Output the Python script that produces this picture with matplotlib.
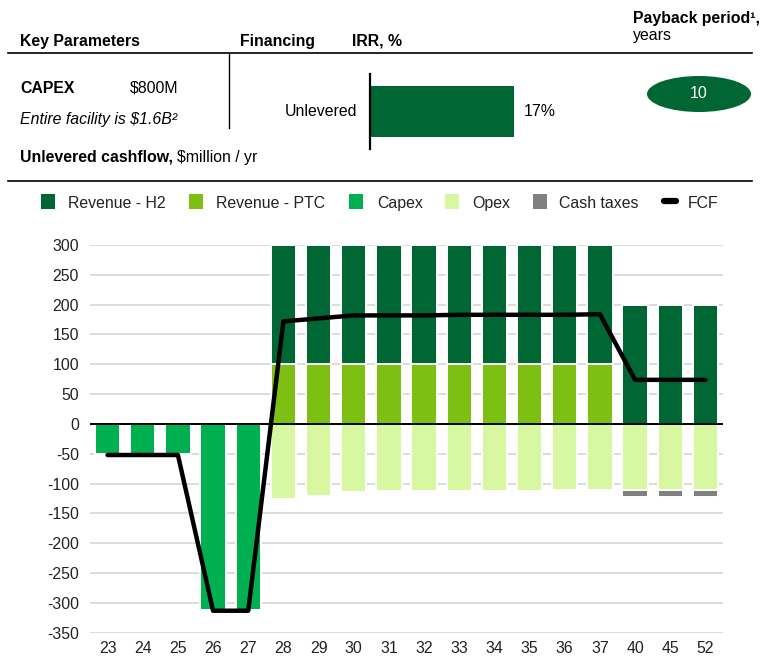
import matplotlib.pyplot as plt
from matplotlib.patches import Rectangle, Ellipse
from matplotlib.lines import Line2D
import numpy as np

plt.rcParams['font.family'] = ['Liberation Sans', 'DejaVu Sans']
plt.rcParams['font.size'] = 11.4
plt.rcParams['axes.unicode_minus'] = False

# ---- data ($million / yr) ----
years = ["23", "24", "25", "26", "27", "28", "29", "30", "31", "32", "33",
         "34", "35", "36", "37", "40", "45", "52"]
rev_h2 = [0, 0, 0, 0, 0, 200, 200, 200, 200, 200, 200, 200, 200, 200, 200, 200, 200, 200]
rev_ptc = [0, 0, 0, 0, 0, 100, 100, 100, 100, 100, 100, 100, 100, 100, 100, 0, 0, 0]
capex = [-50, -50, -50, -312, -312, 0, 0, 0, 0, 0, 0, 0, 0, 0, 0, 0, 0, 0]
opex = [0, 0, 0, 0, 0, -125, -120, -114, -113, -113, -112, -112, -112, -111, -110, -110, -110, -110]
cash_taxes = [0, 0, 0, 0, 0, 0, 0, 0, 0, 0, 0, 0, 0, 0, 0, -13, -13, -13]
fcf = [-52, -52, -52, -313, -313, 172, 177, 182, 182, 182, 183, 183, 183, 183, 184, 74, 74, 74]

irr_pct = 17
payback_years = 10

c_h2 = "#006633"
c_ptc = "#7DC013"
c_capex = "#00B050"
c_opex = "#D7F7A1"
c_tax = "#808080"

W, H = 778, 657
fig = plt.figure(figsize=(W / 100, H / 100), dpi=100)


def fx(x):
    return x / W


def fy(y):
    return 1 - y / H


# ---- header block ----
fig.text(fx(20), fy(46), "Key Parameters", weight="bold", va="baseline")
fig.text(fx(240), fy(46), "Financing", weight="bold", va="baseline")
fig.text(fx(352), fy(46), "IRR, %", weight="bold", va="baseline")
fig.text(fx(633), fy(23), "Payback period\u00b9,", weight="bold", va="baseline")
fig.text(fx(633), fy(40), "years", va="baseline")
fig.add_artist(Line2D([fx(8), fx(752)], [fy(53), fy(53)], color="black", lw=1.2))
fig.add_artist(Line2D([fx(229), fx(229)], [fy(53), fy(128)], color="black", lw=1.0))

fig.text(fx(20), fy(93), "CAPEX", weight="bold", va="baseline")
fig.text(fx(130), fy(93), "$800M", va="baseline")
fig.text(fx(20), fy(124), "Entire facility is $1.6B\u00b2", style="italic", va="baseline")

lab = fig.text(fx(20), fy(162), "Unlevered cashflow,", weight="bold", va="baseline")
fig.canvas.draw()
bb = lab.get_window_extent()
fig.text(bb.x1 / W + fx(4), fy(162), "$million / yr", va="baseline")

fig.add_artist(Line2D([fx(8), fx(752)], [fy(181), fy(181)], color="black", lw=1.2))

# IRR bar
irr_ax = fig.add_axes([fx(370), fy(149), fx(144 * 20 / irr_pct), (149 - 74) / H])
irr_ax.barh([0], [irr_pct], height=0.68, color=c_h2, left=0)
irr_ax.set_xlim(0, 20)
irr_ax.set_ylim(-0.5, 0.5)
for s in ["top", "right", "bottom"]:
    irr_ax.spines[s].set_visible(False)
irr_ax.spines["left"].set_linewidth(1.6)
irr_ax.set_xticks([])
irr_ax.set_yticks([])
irr_ax.patch.set_alpha(0)
irr_ax.text(-1.5, 0, "Unlevered", ha="right", va="center")
irr_ax.text(irr_pct + 1.2, 0, f"{irr_pct}%", ha="left", va="center")

# payback badge
fig.add_artist(Ellipse((fx(699), fy(94)), fx(104), 36 / H, color=c_h2, lw=0))
fig.text(fx(699), fy(94), str(payback_years), color="white", ha="center", va="center")

# ---- legend ----
legend_items = [("Revenue - H2", c_h2, 41, 68), ("Revenue - PTC", c_ptc, 189, 216),
                ("Capex", c_capex, 349, 377), ("Opex", c_opex, 445, 472),
                ("Cash taxes", c_tax, 533, 559)]
for name, col, sx, tx in legend_items:
    fig.add_artist(Rectangle((fx(sx), fy(209)), fx(14), 15 / H, color=col, lw=0))
    fig.text(fx(tx), fy(208), name, va="baseline", color="#222222")
fig.add_artist(Line2D([fx(664), fx(676)], [fy(201), fy(201)], color="black", lw=4.5,
                      solid_capstyle="round"))
fig.text(fx(688), fy(208), "FCF", va="baseline", color="#222222")

# ---- cashflow chart ----
ax = fig.add_axes([fx(90), (H - 632.8) / H, fx(723 - 90), (632.8 - 245) / H])
x = np.arange(len(years))
bw = 0.72
edge = dict(edgecolor="white", linewidth=1.4)

ax.bar(x, rev_ptc, bw, color=c_ptc, zorder=2, **edge)
ax.bar(x, rev_h2, bw, bottom=rev_ptc, color=c_h2, zorder=2, **edge)
ax.bar(x, capex, bw, color=c_capex, zorder=2, **edge)
ax.bar(x, opex, bw, color=c_opex, zorder=2, **edge)
ax.bar(x, cash_taxes, bw, bottom=opex, color=c_tax, zorder=2, **edge)
ax.plot(x, fcf, color="black", lw=3.2, zorder=4, solid_capstyle="round")
ax.axhline(0, color="black", lw=1.4, zorder=3)

ax.set_xlim(-0.5, len(years) - 0.5)
ax.set_ylim(-350, 300)
ax.set_yticks(np.arange(-350, 301, 50))
ax.set_xticks(x)
ax.set_xticklabels(years)
ax.yaxis.grid(True, color="#D9D9D9", lw=1.3, zorder=0)
ax.set_axisbelow(True)
for s in ax.spines.values():
    s.set_visible(False)
ax.tick_params(axis="both", length=0, labelcolor="#222222")
ax.tick_params(axis="y", pad=8)
ax.tick_params(axis="x", pad=6)

fig.savefig("out.png", dpi=100)
